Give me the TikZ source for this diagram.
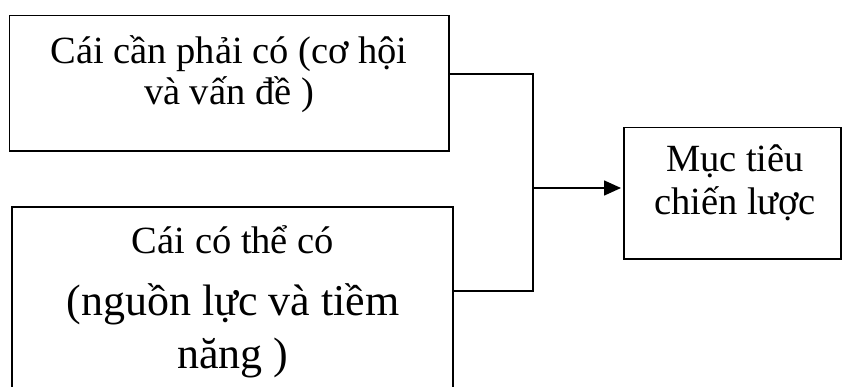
\documentclass[tikz,border=0pt]{standalone}
\usepackage{fontspec}
\setmainfont{Liberation Serif}
\usetikzlibrary{arrows.meta}
\tikzset{
  box/.style={draw=black, line width=1.6pt, rectangle, inner sep=0pt, outer sep=0pt},
  lbl/.style={inner sep=0pt, anchor=base, font=\fontsize{38.5}{42}\selectfont},
  lblbig/.style={inner sep=0pt, anchor=base, font=\fontsize{44}{50}\selectfont},
  conn/.style={draw=black, line width=1.6pt},
}
\begin{document}
\begin{tikzpicture}[x=1pt, y=-1pt]
\useasboundingbox (0,0) rectangle (844,387);
\clip (0,0) rectangle (844,387);
% boxes
\node[box, minimum width=439.5pt, minimum height=135.5pt] (b1) at (229.25,83.25) {};
\node[box, minimum width=441pt, minimum height=193pt] (b2) at (232.5,303.5) {};
\node[box, minimum width=217pt, minimum height=131.5pt] (b3) at (732.5,193.25) {};
% texts
\node[lbl] (t1a) at (229,64) {Cái cần phải có (cơ hội};
\node[lbl] (t1b) at (229,105) {và vấn đề )};
\node[lbl] (t2a) at (233,254) {Cái có thể có};
\node[lblbig] (t2b) at (233,316) {(nguồn lực và tiềm};
\node[lblbig] (t2c) at (233,369) {năng )};
\node[lbl] (t3a) at (735,172) {Mục tiêu};
\node[lbl] (t3b) at (735,215) {chiến lược};
% connectors
\coordinate (y1) at (0,74);
\coordinate (y2) at (0,291);
\coordinate (j) at (533,188);
\draw[conn] (b1.east |- y1) -| (j);
\draw[conn] (b2.east |- y2) -| (j);
\draw[conn, shorten >=3pt, -{Triangle[length=17pt,width=15pt]}] (j) -- (b3.west |- j);
\end{tikzpicture}
\end{document}
